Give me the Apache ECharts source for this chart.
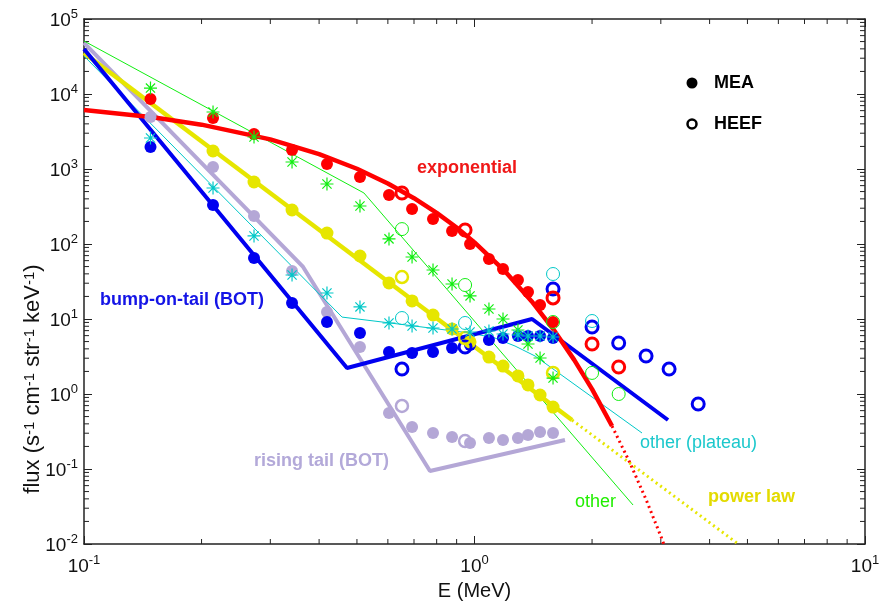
<!DOCTYPE html>
<html><head><meta charset="utf-8">
<script src="https://cdn.jsdelivr.net/npm/echarts@6/dist/echarts.min.js"></script>
<style>html,body{margin:0;padding:0;background:#fff}#c{width:883px;height:603px}</style>
</head><body><div id="c"></div>
<script>
// ---- data ----
const meaE = [0.148,0.214,0.2725,0.341,0.419,0.509,0.604,0.692,0.783,0.876,0.974,1.089,1.183,1.292,1.371,1.472,1.589];

const expMEA      = [8580,4790,2930,1790,1166,782,450,293,215,149,100,63.1,46.4,33.1,22.9,15.4,9.12];
const expHEEF_E   = [0.652,0.946,1.589,2.0,2.34];
const expHEEF     = [479,154,19.1,4.64,2.29];
const expFitE     = [0.1,0.15,0.2,0.3,0.4,0.5,0.6,0.7,0.8,0.9,1.0,1.2,1.4,1.6,1.8,2.0,2.25];
const expFit      = [6120,4890,3900,2480,1580,1007,641,408,260,166,105,42.8,17.3,7.03,2.85,1.16,0.374];
const expExtE     = [2.25,2.5,2.75,3.0,3.05];
const expExt      = [0.374,0.121,0.0392,0.0127,0.0101];

const powMEA      = [null,1738,671,284,140,69.2,30.2,17.4,11.3,7.36,4.94,3.11,2.36,1.74,1.32,0.97,0.67];
const powHEEF_E   = [0.652,0.946,1.589];
const powHEEF     = [36.3,5.58,1.91];
const powFitE     = [0.1,1.777];
const powFit      = [35200,0.45];
const powExtE     = [1.777,4.70];
const powExt      = [0.45,0.0103];

const otherMEA    = [12000,5750,2670,1240,631,321,117,67.1,45.0,29.3,20.3,13.6,10,7.13,4.64,3.02,1.63];
const otherHEEF_E = [0.652,0.946,1.589,2.0,2.34];
const otherHEEF   = [158,28.4,9.12,1.91,1.0];
const otherFitE   = [0.1,0.521,2.547];
const otherFit    = [50900,479,0.0331];

const platMEA     = [2590,558,128,38.6,22.2,14.5,8.85,8.07,7.59,7.36,6.71,6.92,6.31,6.12,5.93,5.93,5.75];
const platHEEF_E  = [0.652,0.946,1.589,2.0];
const platHEEF    = [10.3,8.85,39.8,9.4];
const platFitE    = [0.1,0.458,0.608,0.974,1.128,1.27,1.429,2.685];
const platFit     = [32100,10.6,8.85,6.5,5.58,4.36,3.21,0.302];

const botMEA      = [1965,331,65.1,16.3,9.12,6.5,3.63,3.52,3.63,4.1,4.5,5.25,5.58,5.93,5.93,5.93,5.58];
const botHEEF_E   = [0.652,0.946,1.589,2.0,2.34,2.75,3.15,3.74];
const botHEEF     = [2.15,4.24,25.1,7.82,4.79,3.21,2.15,0.735];
const botFitE     = [0.1,0.4716,1.404,3.13];
const botFit      = [39800,2.22,10.0,0.45];

const riseMEA     = [4930,1064,236,43.7,12.4,4.24,0.558,0.363,0.302,0.267,0.222,0.259,0.244,0.259,0.284,0.311,0.302];
const riseHEEF_E  = [0.652,0.946];
const riseHEEF    = [0.692,0.236];
const riseFitE    = [0.1,0.364,0.769,1.705];
const riseFit     = [47900,49.4,0.094,0.244];

const xTicks = [0.1,1,10];
const yRange = [0.01,100000];

// ---- styles ----
const FONT = '"Liberation Sans", Arial, sans-serif';
const C = {red:'#ff0000', yel:'#e6e600', grn:'#11ee11', cyan:'#00c8c8', blue:'#0000f0', lav:'#b4a7d6'};
const AST = 'path://M6,0V12M0,6H12M1.76,1.76L10.24,10.24M10.24,1.76L1.76,10.24';

function pairs(xs, ys){ const o=[]; for(let i=0;i<xs.length;i++){ if(ys[i]!=null) o.push([xs[i],ys[i]]); } return o; }
function line(xs, ys, color, width, dotted){
  return {type:'line', data:pairs(xs,ys), symbol:'none', silent:true, z:2,
    lineStyle:{color:color, width:width, type: dotted ? [2,3.5] : 'solid', cap:'butt'}};
}
function dots(xs, ys, color, size){
  return {type:'scatter', data:pairs(xs,ys), symbol:'circle', symbolSize:size, silent:true, z:3,
    itemStyle:{color:color, opacity:1}};
}
function rings(xs, ys, color, size, bw){
  return {type:'scatter', data:pairs(xs,ys), symbol:'circle', symbolSize:size, silent:true, z:4,
    itemStyle:{color:'rgba(0,0,0,0)', borderColor:color, borderWidth:bw, opacity:1}};
}
function stars(xs, ys, color, size){
  return {type:'scatter', data:pairs(xs,ys), symbol:AST, symbolSize:size, silent:true, z:4,
    itemStyle:{color:'rgba(0,0,0,0)', borderColor:color, borderWidth:1.2, opacity:1}};
}

const rich = {
  b:{fontSize:19, lineHeight:22, verticalAlign:'bottom', fontFamily:FONT, color:'#111'},
  s:{fontSize:13, lineHeight:13, verticalAlign:'top', fontFamily:FONT, color:'#111'}
};
function powLabel(v){ const e=Math.round(Math.log10(v)); return '{b|10}{s|'+e+'}'; }

const axisLineStyle = {color:'#222', width:1.5};
const chart = echarts.init(document.getElementById('c'));
chart.setOption({
  animation:false,
  backgroundColor:'#fff',
  grid:{left:84, right:18, top:19, bottom:59, containLabel:false, outerBoundsMode:'none'},
  xAxis:[
    {type:'log', logBase:10, min:xTicks[0], max:xTicks[2], position:'bottom',
     axisLine:{show:true, onZero:false, lineStyle:axisLineStyle},
     axisTick:{show:true, inside:true, length:8, lineStyle:{color:'#222', width:1}},
     axisLabel:{formatter:powLabel, rich:rich, margin:10},
     splitLine:{show:false},
     name:'E (MeV)', nameLocation:'middle', nameGap:37,
     nameTextStyle:{fontSize:20, fontFamily:FONT, color:'#111'}},
    {type:'log', logBase:10, min:xTicks[0], max:xTicks[2], position:'top',
     axisLine:{show:true, onZero:false, lineStyle:axisLineStyle},
     axisTick:{show:true, inside:true, length:8, lineStyle:{color:'#222', width:1}},
     axisLabel:{show:false}, splitLine:{show:false}}
  ],
  yAxis:[
    {type:'log', logBase:10, min:yRange[0], max:yRange[1], position:'left',
     axisLine:{show:true, onZero:false, lineStyle:axisLineStyle},
     axisTick:{show:true, inside:true, length:8, lineStyle:{color:'#222', width:1}},
     axisLabel:{formatter:powLabel, rich:rich, margin:6},
     splitLine:{show:false}},
    {type:'log', logBase:10, min:yRange[0], max:yRange[1], position:'right',
     axisLine:{show:true, onZero:false, lineStyle:axisLineStyle},
     axisTick:{show:true, inside:true, length:8, lineStyle:{color:'#222', width:1}},
     axisLabel:{show:false}, splitLine:{show:false}}
  ],
  series:[
    line(riseFitE, riseFit, C.lav, 4),
    line(otherFitE, otherFit, C.grn, 1),
    line(platFitE, platFit, C.cyan, 1),
    line(powFitE, powFit, C.yel, 4.5),
    line(powExtE, powExt, C.yel, 3, true),
    line(botFitE, botFit, C.blue, 4),
    line(expFitE, expFit, C.red, 4.5),
    line(expExtE, expExt, C.red, 3, true),
    dots(meaE, riseMEA, C.lav, 12),
    dots(meaE, botMEA, C.blue, 12),
    dots(meaE, powMEA, C.yel, 13),
    dots(meaE, expMEA, C.red, 12),
    rings(riseHEEF_E, riseHEEF, C.lav, 12, 2.5),
    rings(botHEEF_E, botHEEF, C.blue, 12, 3),
    rings(powHEEF_E, powHEEF, C.yel, 12, 2.5),
    rings(expHEEF_E, expHEEF, C.red, 12, 3),
    stars(meaE, otherMEA, C.grn, 13),
    rings(otherHEEF_E, otherHEEF, C.grn, 13, 1),
    stars(meaE, platMEA, C.cyan, 13),
    rings(platHEEF_E, platHEEF, C.cyan, 13, 1)
  ]
});

// ---- minor ticks, annotations (positions via the library's scales) ----
const g = [];
function px(v){ return chart.convertToPixel({xAxisIndex:0}, v); }
function py(v){ return chart.convertToPixel({yAxisIndex:0}, v); }
const x0 = px(xTicks[0]), x1 = px(xTicks[2]), y0 = py(yRange[0]), y1 = py(yRange[1]);
for (let d=-1; d<1; d++) for (let k=2;k<10;k++){
  const X = px(k*Math.pow(10,d));
  g.push({type:'line', silent:true, shape:{x1:X,y1:y0,x2:X,y2:y0-5}, style:{stroke:'#222',lineWidth:1}});
  g.push({type:'line', silent:true, shape:{x1:X,y1:y1,x2:X,y2:y1+5}, style:{stroke:'#222',lineWidth:1}});
}
for (let d=-2; d<5; d++) for (let k=2;k<10;k++){
  const Y = py(k*Math.pow(10,d));
  g.push({type:'line', silent:true, shape:{x1:x0,y1:Y,x2:x0+5,y2:Y}, style:{stroke:'#222',lineWidth:1}});
  g.push({type:'line', silent:true, shape:{x1:x1,y1:Y,x2:x1-5,y2:Y}, style:{stroke:'#222',lineWidth:1}});
}
function txt(s, x, y, color, bold){
  g.push({type:'text', silent:true, x:x, y:y, z:10,
    style:{text:s, fill:color, font:(bold?'bold ':'')+'18px '+FONT, align:'left', verticalAlign:'middle'}});
}
txt('exponential', 417, 168, '#f01818', true);
txt('bump-on-tail (BOT)', 100, 300, '#1414e6', true);
txt('rising tail (BOT)', 254, 461, '#b3a9d9', true);
txt('other (plateau)', 640, 443, '#1cc8cc', false);
txt('other', 575, 502, '#22ee00', false);
txt('power law', 708, 497, '#e3db00', true);
txt('MEA', 714, 83, '#000', true);
txt('HEEF', 714, 124, '#000', true);
g.push({type:'circle', silent:true, shape:{cx:692, cy:83, r:5.5}, style:{fill:'#000'}});
g.push({type:'circle', silent:true, shape:{cx:692, cy:124, r:4.5}, style:{fill:'none', stroke:'#000', lineWidth:2.5}});
g.push({type:'text', silent:true, x:33, y:379, rotation:Math.PI/2,
  style:{text:'flux (s{s|-1} cm{s|-1} str{s|-1} keV{s|-1})', font:'22px '+FONT, fill:'#111',
    align:'center', verticalAlign:'middle',
    rich:{s:{fontSize:15, lineHeight:15, verticalAlign:'top', fill:'#111', fontFamily:FONT}}}});
chart.setOption({graphic:g});
</script></body></html>
